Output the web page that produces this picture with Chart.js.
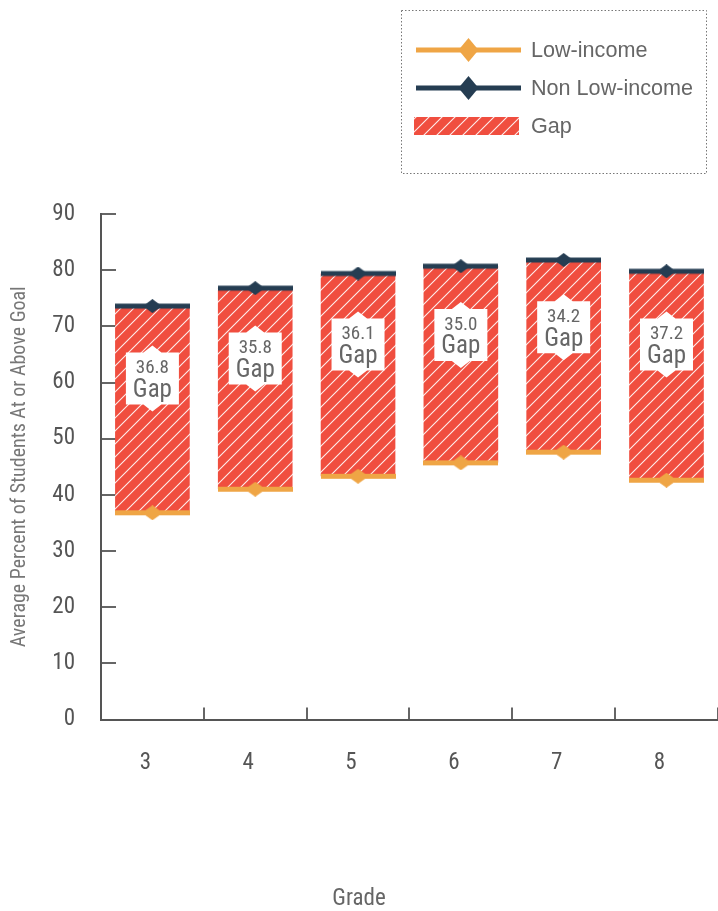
<!DOCTYPE html>
<html>
<head>
<meta charset="utf-8">
<title>Low-income gap by grade</title>
<script src="https://cdn.jsdelivr.net/npm/chart.js@4.4.1/dist/chart.umd.min.js"></script>
<style>
  html, body { margin: 0; padding: 0; background: #fff; }
  #wrap { width: 718px; height: 911px; position: relative; }
</style>
</head>
<body>
<div id="wrap"><canvas id="gap-chart"></canvas></div>
<script>
// data
const grades = ['3', '4', '5', '6', '7', '8'];
const lowIncome = [36.8, 41.0, 43.3, 45.7, 47.6, 42.6];
const nonLowIncome = [73.6, 76.8, 79.4, 80.7, 81.8, 79.8];
const gapValues = [36.8, 35.8, 36.1, 35.0, 34.2, 37.2];
const yTicks = [0, 10, 20, 30, 40, 50, 60, 70, 80, 90];

const ORANGE = '#EFA545';
const NAVY = '#253D52';
const RED = '#F04E3F';
const GREY = '#666666';
const NARROW = "'Roboto Condensed', 'Liberation Sans Narrow', 'Arial Narrow', 'DejaVu Sans Condensed', sans-serif";
const PLAIN = "'Liberation Sans', Arial, Helvetica, sans-serif";

Chart.defaults.font.family = NARROW;
Chart.defaults.color = GREY;

// red fill with thin white diagonal stripes
function stripes(color) {
  const s = 13;
  const c = document.createElement('canvas');
  c.width = s; c.height = s;
  const g = c.getContext('2d');
  g.fillStyle = color;
  g.fillRect(0, 0, s, s);
  g.strokeStyle = 'rgba(255,255,255,0.9)';
  g.lineWidth = 1.1;
  g.beginPath();
  g.moveTo(0, s); g.lineTo(s, 0);
  g.moveTo(-2, 2); g.lineTo(2, -2);
  g.moveTo(s - 2, s + 2); g.lineTo(s + 2, s - 2);
  g.stroke();
  return g.createPattern(c, 'repeat');
}

// thick flat band with a diamond in the middle
function marker(color, w, band, dw, dh) {
  const c = document.createElement('canvas');
  c.width = w; c.height = dh;
  const g = c.getContext('2d');
  g.fillStyle = color;
  g.fillRect(0, (dh - band) / 2, w, band);
  g.beginPath();
  g.moveTo(w / 2 - dw / 2, dh / 2);
  g.lineTo(w / 2, 0);
  g.lineTo(w / 2 + dw / 2, dh / 2);
  g.lineTo(w / 2, dh);
  g.closePath();
  g.fill();
  return c;
}

const gapFill = stripes(RED);

const gapTags = {
  id: 'gapTags',
  afterDatasetsDraw(chart) {
    const ctx = chart.ctx;
    const y = chart.scales.y;
    const bars = chart.getDatasetMeta(2).data;
    ctx.save();
    bars.forEach((bar, i) => {
      const cx = bar.x;
      const cy = y.getPixelForValue(nonLowIncome[i] - 0.35 * gapValues[i]);
      const w = 53, h = 52, pk = 7, pw = 9;
      const l = cx - w / 2, r = cx + w / 2, t = cy - h / 2, b = cy + h / 2;
      ctx.fillStyle = '#fff';
      ctx.beginPath();
      ctx.moveTo(l, t);
      ctx.lineTo(cx - pw, t); ctx.lineTo(cx, t - pk); ctx.lineTo(cx + pw, t);
      ctx.lineTo(r, t); ctx.lineTo(r, b);
      ctx.lineTo(cx + pw, b); ctx.lineTo(cx, b + pk); ctx.lineTo(cx - pw, b);
      ctx.lineTo(l, b);
      ctx.closePath();
      ctx.fill();
      ctx.fillStyle = GREY;
      ctx.textAlign = 'center';
      ctx.textBaseline = 'middle';
      ctx.font = '19px ' + NARROW;
      ctx.fillText(gapValues[i].toFixed(1), cx, cy - 10);
      ctx.font = '25px ' + NARROW;
      ctx.fillText('Gap', cx, cy + 12);
    });
    ctx.restore();
  }
};

const boxLegend = {
  id: 'boxLegend',
  afterDraw(chart) {
    const ctx = chart.ctx;
    ctx.save();
    ctx.strokeStyle = '#777';
    ctx.lineWidth = 1;
    ctx.setLineDash([1.5, 2]);
    ctx.strokeRect(401.5, 10.5, 305, 163);
    ctx.setLineDash([]);
    const rows = [50, 88, 126];
    ctx.font = '21.6px ' + PLAIN;
    ctx.textBaseline = 'middle';
    ctx.textAlign = 'left';
    chart.data.datasets.forEach((ds, i) => {
      const yy = rows[i];
      if (ds.legendIcon) {
        ctx.drawImage(ds.legendIcon, 416, yy - ds.legendIcon.height / 2);
      } else {
        ctx.fillStyle = ds.backgroundColor;
        ctx.fillRect(414, yy - 9, 105, 18);
      }
      ctx.fillStyle = GREY;
      ctx.fillText(ds.label, 531, yy + 1);
    });
    ctx.restore();
  }
};

new Chart(document.getElementById('gap-chart'), {
  data: {
    labels: grades,
    datasets: [
      {
        type: 'line',
        label: 'Low-income',
        data: lowIncome,
        showLine: false,
        borderWidth: 0,
        pointRadius: 0.1,
        pointBorderWidth: 0,
        pointHoverRadius: 0.1,
        pointStyle: marker(ORANGE, 75, 5, 21, 15),
        legendIcon: marker(ORANGE, 105, 5, 20, 24),
        order: 1
      },
      {
        type: 'line',
        label: 'Non Low-income',
        data: nonLowIncome,
        showLine: false,
        borderWidth: 0,
        pointRadius: 0.1,
        pointBorderWidth: 0,
        pointHoverRadius: 0.1,
        pointStyle: marker(NAVY, 75, 5, 19, 14),
        legendIcon: marker(NAVY, 105, 5, 20, 24),
        order: 2
      },
      {
        type: 'bar',
        label: 'Gap',
        data: grades.map((g, i) => [lowIncome[i], nonLowIncome[i]]),
        backgroundColor: gapFill,
        borderWidth: 0,
        grouped: false,
        barPercentage: 0.726,
        categoryPercentage: 1,
        order: 3
      }
    ]
  },
  options: {
    responsive: true,
    maintainAspectRatio: false,
    animation: false,
    layout: { padding: { top: 214, left: 0, right: 0, bottom: 0 } },
    plugins: {
      legend: { display: false },
      tooltip: { enabled: false },
      title: {
        display: true,
        position: 'bottom',
        text: 'Grade',
        color: GREY,
        font: { size: 23, weight: 'normal', lineHeight: 1 },
        padding: { top: 0, bottom: 0 }
      }
    },
    scales: {
      x: {
        offset: true,
        grid: { drawOnChartArea: false, offset: true, tickLength: -12, color: GREY, lineWidth: 2 },
        border: { color: '#555', width: 2 },
        ticks: { color: '#555', padding: 41.5, labelOffset: -7, font: { size: 23 } },
        afterFit(s) { s.height = 911 - 23 - 719.5; }
      },
      y: {
        min: 0,
        max: 90,
        afterBuildTicks(s) { s.ticks = yTicks.map(v => ({ value: v })); },
        grid: { drawOnChartArea: false, tickLength: -15, color: GREY, lineWidth: 2 },
        border: { color: '#555', width: 2 },
        ticks: { color: '#555', padding: 41, font: { size: 23 } },
        title: {
          display: true,
          text: 'Average Percent of Students At or Above Goal',
          color: '#777',
          font: { size: 20, weight: 'normal' },
          padding: { top: 8, bottom: 0 }
        },
        afterFit(s) { s.width = 101; }
      }
    }
  },
  plugins: [gapTags, boxLegend]
});
</script>
</body>
</html>
